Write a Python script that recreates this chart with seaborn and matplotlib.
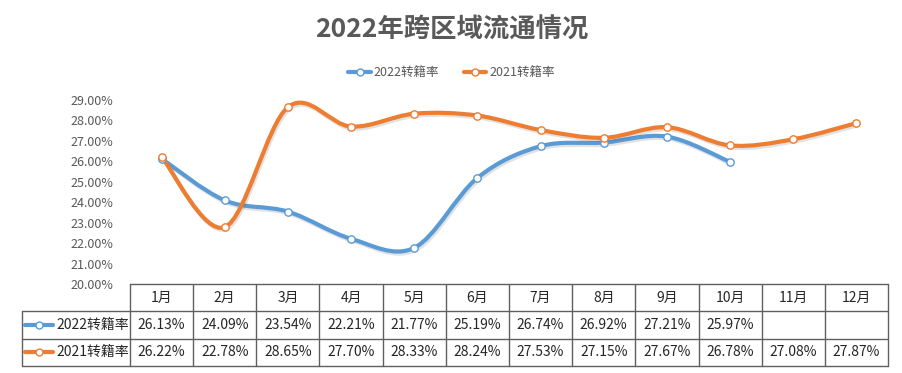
import numpy as np
import matplotlib
matplotlib.use('Agg')
import matplotlib.pyplot as plt
import matplotlib.patheffects as pe
from matplotlib.path import Path
from matplotlib.patches import PathPatch
from matplotlib.lines import Line2D
import seaborn as sns

# data
months = ['1月', '2月', '3月', '4月', '5月', '6月', '7月', '8月', '9月', '10月', '11月', '12月']
rate_2022 = [26.13, 24.09, 23.54, 22.21, 21.77, 25.19, 26.74, 26.92, 27.21, 25.97]
rate_2021 = [26.22, 22.78, 28.65, 27.70, 28.33, 28.24, 27.53, 27.15, 27.67, 26.78, 27.08, 27.87]
series_names = ['2022转籍率', '2021转籍率']
yticks = [20, 21, 22, 23, 24, 25, 26, 27, 28, 29]

BLUE = '#5B9BD5'
ORANGE = '#ED7D31'
GRAY = '#595959'

sns.set_theme(style='white')
plt.rcParams['font.family'] = ['Noto Sans CJK SC', 'DejaVu Sans']


def smooth_path(values):
    # Catmull-Rom style bezier through the points (like Excel smoothed lines)
    pts = np.column_stack([np.arange(len(values)), values]).astype(float)
    verts = [pts[0]]
    codes = [Path.MOVETO]
    n = len(pts)
    for i in range(n - 1):
        p0 = pts[max(i - 1, 0)]
        p1 = pts[i]
        p2 = pts[i + 1]
        p3 = pts[min(i + 2, n - 1)]
        c1 = p1 + (p2 - p0) / 6.0
        c2 = p2 - (p3 - p1) / 6.0
        verts += [c1, c2, p2]
        codes += [Path.CURVE4] * 3
    return Path(verts, codes)


W, H = 903, 373
fig = plt.figure(figsize=(W / 100, H / 100), dpi=100)

left, right = 130 / W, 888 / W
ax = fig.add_axes([left, (H - 284) / H, right - left, (284 - 100) / H])
ax.set_xlim(-0.5, 11.5)
ax.set_ylim(20, 29)

shadow = [pe.SimpleLineShadow(offset=(1.0, -1.5), alpha=0.15, shadow_color='#404040'),
          pe.Normal()]
for vals, col in [(rate_2022, BLUE), (rate_2021, ORANGE)]:
    patch = PathPatch(smooth_path(vals), facecolor='none', edgecolor=col,
                      lw=3.0, capstyle='round', joinstyle='round', zorder=2)
    patch.set_path_effects(shadow)
    ax.add_patch(patch)
    sns.scatterplot(x=np.arange(len(vals)), y=vals, ax=ax, s=28, marker='o',
                    facecolor='white', edgecolor=col, linewidth=1.0, zorder=3)

ax.set_yticks(yticks)
ax.set_yticklabels([f'{v:.2f}%' for v in yticks], fontsize=9, color=GRAY)
ax.set_xticks([])
ax.tick_params(axis='y', length=0, pad=12)
for s in ax.spines.values():
    s.set_visible(False)

# data table under the plot
tab = fig.add_axes([left, (H - 366) / H, right - left, (366 - 284) / H])
tab.set_xlim(-0.5, 11.5)
tab.set_ylim(0, 3)
tab.axis('off')
px = (right - left) * W / 12.0
lab_x = (22 - 130) / px - 0.5
lc = '#606060'
kw = dict(color=lc, lw=1.0, clip_on=False)
tab.plot([-0.5, 11.5], [3, 3], **kw)
for yy in [0, 1, 2]:
    tab.plot([lab_x, 11.5], [yy, yy], **kw)
for k in range(13):
    tab.plot([k - 0.5, k - 0.5], [0, 3], **kw)
tab.plot([lab_x, lab_x], [0, 2], **kw)

for i, m in enumerate(months):
    tab.text(i, 2.5, m, ha='center', va='center', fontsize=10, color='#262626')
for row, (vals, col, name) in enumerate([(rate_2022, BLUE, series_names[0]),
                                         (rate_2021, ORANGE, series_names[1])]):
    yy = 1.5 - row
    for i, v in enumerate(vals):
        tab.text(i, yy, f'{v:.2f}%', ha='center', va='center', fontsize=10, color='#262626')
    k0 = (25 - 130) / px - 0.5
    k1 = (53 - 130) / px - 0.5
    tab.plot([k0, k1], [yy, yy], color=col, lw=3.0, solid_capstyle='round', clip_on=False)
    tab.plot([(k0 + k1) / 2], [yy], marker='o', ms=5, mfc='white', mec=col, mew=1.0, clip_on=False)
    tab.text((56 - 130) / px - 0.5, yy, name, ha='left', va='center', fontsize=10, color='#262626')

# legend on top
handles = [Line2D([0], [0], color=c, lw=3.0, marker='o', ms=5, mfc='white', mec=c, mew=1.0)
           for c in [BLUE, ORANGE]]
fig.legend(handles, series_names, loc='center', bbox_to_anchor=(0.5, 1 - 73 / H), ncol=2,
           frameon=False, fontsize=9, handlelength=1.8, handletextpad=0.2, columnspacing=2.0,
           labelcolor=GRAY)

fig.text(0.5, 1 - 30 / H, '2022年跨区域流通情况', ha='center', va='center',
         fontsize=19, fontweight='bold', color=GRAY)

fig.savefig('out.png', dpi=100)
